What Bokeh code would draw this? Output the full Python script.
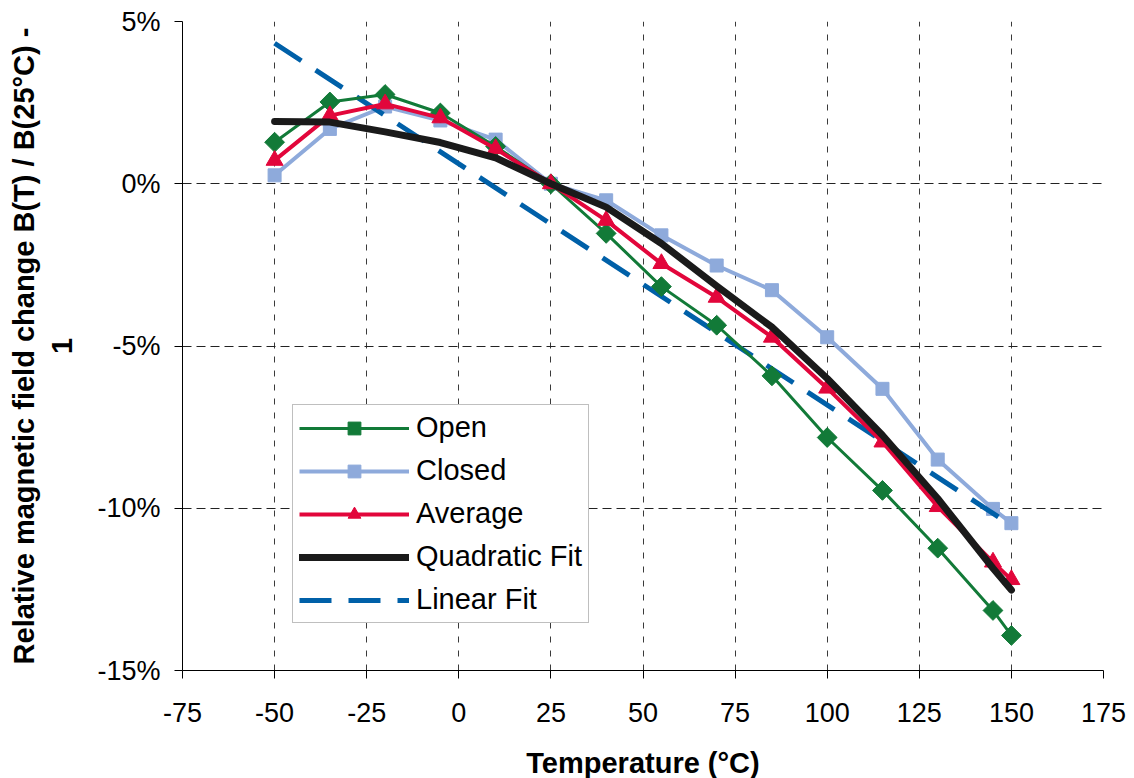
import math
from bokeh.plotting import figure
from bokeh.models import Range1d, FixedTicker, Legend, LegendItem
from bokeh.embed import file_html
from bokeh.resources import INLINE

# ---- data (percent) ----
temps = [-50, -35, -20, -5, 10, 25, 40, 55, 70, 85, 100, 115, 130, 145, 150]
open_vals = [1.28, 2.52, 2.75, 2.18, 1.15, 0.0, -1.53, -3.17, -4.36, -5.92, -7.82, -9.45, -11.23, -13.15, -13.92]
closed_vals = [0.26, 1.69, 2.38, 1.95, 1.36, 0.0, -0.51, -1.59, -2.52, -3.28, -4.73, -6.32, -8.50, -10.02, -10.46]
average_vals = [0.72, 2.10, 2.46, 2.03, 1.08, 0.0, -1.13, -2.46, -3.50, -4.73, -6.30, -7.96, -9.95, -11.66, -12.20]
quadratic_vals = [1.92, 1.90, 1.60, 1.27, 0.80, 0.0, -0.72, -1.84, -3.15, -4.42, -6.00, -7.75, -9.70, -11.85, -12.52]
linear_temps = [-50, 150]
linear_vals = [4.33, -10.53]

x_ticks = [-75, -50, -25, 0, 25, 50, 75, 100, 125, 150, 175]
x_tick_labels = ["-75", "-50", "-25", "0", "25", "50", "75", "100", "125", "150", "175"]
y_ticks = [-15, -10, -5, 0, 5]
y_tick_labels = ["-15%", "-10%", "-5%", "0%", "5%"]

FONT = "Liberation Sans"

p = figure(frame_width=921, frame_height=649,
           min_border_left=182, min_border_right=31, min_border_top=21, min_border_bottom=108,
           x_range=Range1d(-75, 175), y_range=Range1d(-15, 5),
           output_backend="svg", toolbar_location=None)
p.outline_line_color = None
p.background_fill_color = "white"
p.border_fill_color = "white"

# grids
p.xgrid.ticker = FixedTicker(ticks=x_ticks)
p.ygrid.ticker = FixedTicker(ticks=y_ticks)
p.xgrid.grid_line_color = "#3a3a3a"
p.xgrid.grid_line_dash = "6 8"
p.ygrid.grid_line_color = "#222222"
p.ygrid.grid_line_dash = "9 5"
p.xgrid.grid_line_width = 1
p.ygrid.grid_line_width = 1

# axes
p.xaxis.ticker = FixedTicker(ticks=x_ticks)
p.yaxis.ticker = FixedTicker(ticks=y_ticks)
p.xaxis.major_label_overrides = dict(zip(x_ticks, x_tick_labels))
p.yaxis.major_label_overrides = dict(zip(y_ticks, y_tick_labels))
for ax in (p.xaxis[0], p.yaxis[0]):
    ax.axis_line_color = "black"
    ax.axis_line_width = 1
    ax.major_tick_line_color = "black"
    ax.major_tick_in = 0
    ax.major_tick_out = 8
    ax.minor_tick_line_color = None
    ax.major_label_text_font = FONT
    ax.major_label_text_font_size = "27px"
    ax.major_label_text_color = "black"
    ax.axis_label_text_font = FONT
    ax.axis_label_text_font_size = "29px"
    ax.axis_label_text_font_style = "bold"
    ax.axis_label_text_color = "black"

p.xaxis.axis_label = "Temperature (°C)"
p.xaxis.major_label_standoff = 24
p.xaxis.axis_label_standoff = 22
p.yaxis.axis_label = "Relative magnetic field change B(T) / B(25°C) -\n1"
p.yaxis.major_label_standoff = 14
p.yaxis.axis_label_standoff = 16

GREEN = "#127a38"
LBLUE = "#8eaadb"
RED = "#e2063b"
BLACK = "#1a1a1a"
BLUE = "#0060a8"

r_closed_l = p.line(temps, closed_vals, line_color=LBLUE, line_width=4)
r_closed_m = p.scatter(temps, closed_vals, marker="square", size=13, fill_color=LBLUE, line_color=LBLUE)

r_lin = p.line(linear_temps, linear_vals, line_color=BLUE, line_width=5, line_dash="32 17")

r_open_l = p.line(temps, open_vals, line_color=GREEN, line_width=3)
r_open_m = p.scatter(temps, open_vals, marker="square", angle=math.pi / 4, size=14,
                     fill_color=GREEN, line_color=GREEN)

r_avg_l = p.line(temps, average_vals, line_color=RED, line_width=4)
r_avg_m = p.scatter(temps, average_vals, marker="triangle", size=17, fill_color=RED, line_color=RED)

r_quad = p.line(temps, quadratic_vals, line_color=BLACK, line_width=7, line_join="round", line_cap="round")

legend = Legend(items=[
    LegendItem(label="Open", renderers=[r_open_l, r_open_m]),
    LegendItem(label="Closed", renderers=[r_closed_l, r_closed_m]),
    LegendItem(label="Average", renderers=[r_avg_l, r_avg_m]),
    LegendItem(label="Quadratic Fit", renderers=[r_quad]),
    LegendItem(label="Linear Fit", renderers=[r_lin]),
], location=(110, 47))
legend.label_text_font = FONT
legend.label_text_font_size = "29px"
legend.label_text_color = "black"
legend.glyph_width = 110
legend.glyph_height = 32
legend.label_height = 32
legend.spacing = 10
legend.padding = 6
legend.margin = 0
legend.label_standoff = 7
legend.border_line_color = "#7f7f7f"
legend.border_line_width = 1.5
legend.background_fill_color = "white"
legend.background_fill_alpha = 1.0
p.add_layout(legend, "center")

open("out.html", "w").write(file_html(p, INLINE))
